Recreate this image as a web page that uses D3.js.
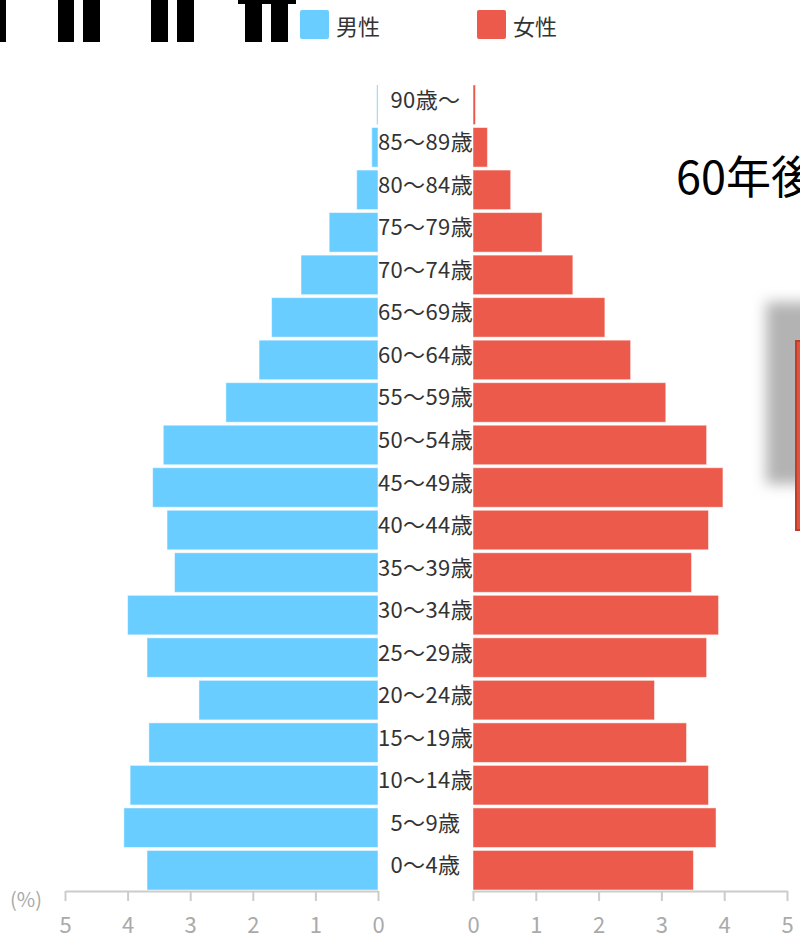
<!DOCTYPE html>
<html>
<head>
<meta charset="utf-8">
<script src="https://cdn.jsdelivr.net/npm/d3@7"></script>
<style>
  html, body { margin: 0; padding: 0; background: #fff; }
  svg { display: block; font-family: "Noto Sans CJK JP", "Noto Sans", sans-serif; }
</style>
</head>
<body>
<svg id="chart" width="800" height="940"></svg>
<script>
// ---- data ----
const ageGroups = ["90歳〜","85〜89歳","80〜84歳","75〜79歳","70〜74歳","65〜69歳","60〜64歳","55〜59歳","50〜54歳","45〜49歳","40〜44歳","35〜39歳","30〜34歳","25〜29歳","20〜24歳","15〜19歳","10〜14歳","5〜9歳","0〜4歳"];
const maleValues   = [0.02,0.10,0.34,0.78,1.23,1.70,1.90,2.43,3.43,3.60,3.37,3.25,4.00,3.69,2.86,3.66,3.96,4.06,3.69];
const femaleValues = [0.04,0.23,0.60,1.10,1.59,2.10,2.51,3.07,3.72,3.98,3.75,3.48,3.91,3.72,2.89,3.40,3.75,3.87,3.51];
const tickValues = [0,1,2,3,4,5];
const legendLabels = ["男性","女性"];
const unitLabel = "(%)";
const sideTitle = "60年後";

// ---- setup ----
const svg = d3.select("#chart");
const colors = { male: "#69cdff", female: "#ec5a4b" };

const xLeft = d3.scaleLinear().domain([0,5]).range([378,65]);
const xRight = d3.scaleLinear().domain([0,5]).range([473,787]);
const y = d3.scaleBand().domain(ageGroups).range([85,890]).paddingInner(0.07).paddingOuter(0);

// decorative clipped heading fragments (top-left)
const decor = svg.append("g").attr("fill","#000");
[[0,6],[58,16],[83,17],[151,17],[177,17],[245,17],[271,17]].forEach(([x,w]) => {
  decor.append("rect").attr("x",x).attr("y",0).attr("width",w).attr("height",42);
});
decor.append("rect").attr("x",238).attr("y",0).attr("width",58).attr("height",4);

// right side fragments
const defs = svg.append("defs");
defs.append("filter").attr("id","blur").attr("x","-50%").attr("y","-50%").attr("width","200%").attr("height","200%")
  .append("feGaussianBlur").attr("stdDeviation",7);
defs.append("clipPath").attr("id","labelClip")
  .append("rect").attr("x",378).attr("y",0).attr("width",95).attr("height",940);

svg.append("rect").attr("x",766).attr("y",302).attr("width",60).attr("height",182)
  .attr("fill","#b3b3b3").attr("filter","url(#blur)");
svg.append("rect").attr("x",796).attr("y",341).attr("width",20).attr("height",189)
  .attr("fill","#e0533f").attr("stroke","#c23c2a").attr("stroke-width",2);

svg.append("text").attr("x",676).attr("y",194)
  .attr("font-size",45).attr("fill","#000").text(sideTitle);

// legend
const legend = svg.append("g");
[[300, colors.male, legendLabels[0]], [477, colors.female, legendLabels[1]]].forEach(([x,c,t]) => {
  legend.append("rect").attr("x",x).attr("y",10).attr("width",29).attr("height",29).attr("rx",2).attr("fill",c);
  legend.append("text").attr("x",x+36).attr("y",25).attr("dominant-baseline","central")
    .attr("font-size",22).attr("fill","#333").text(t);
});

// bars
svg.append("g").selectAll("rect").data(ageGroups).join("rect")
  .attr("x",(d,i) => xLeft(maleValues[i]))
  .attr("y",d => y(d))
  .attr("width",(d,i) => xLeft(0) - xLeft(maleValues[i]))
  .attr("height",y.bandwidth())
  .attr("fill",colors.male)
  .attr("stroke","#ffffff").attr("stroke-opacity",0.5).attr("stroke-width",1);

svg.append("g").selectAll("rect").data(ageGroups).join("rect")
  .attr("x",xRight(0))
  .attr("y",d => y(d))
  .attr("width",(d,i) => xRight(femaleValues[i]) - xRight(0))
  .attr("height",y.bandwidth())
  .attr("fill",colors.female)
  .attr("stroke","#ffffff").attr("stroke-opacity",0.5).attr("stroke-width",1);

// category labels
svg.append("g").attr("clip-path","url(#labelClip)")
  .selectAll("text").data(ageGroups).join("text")
  .attr("x",(xLeft(0)+xRight(0))/2)
  .attr("y",d => y(d) + y.bandwidth()/2 - 7)
  .attr("text-anchor","middle").attr("dominant-baseline","central")
  .attr("font-size",22).attr("letter-spacing",0.4).attr("fill","#333")
  .text(d => d);

// axes
function styleAxis(g) {
  g.select(".domain").attr("stroke","#cccccc").attr("stroke-width",2);
  g.selectAll(".tick line").attr("stroke","#cccccc").attr("stroke-width",2);
  g.selectAll(".tick text").attr("fill","#aaaaaa").attr("font-size",22)
    .attr("font-family","'Noto Sans CJK JP', 'Noto Sans', sans-serif");
}
const axisY = 891;
svg.append("g").attr("transform",`translate(0,${axisY})`)
  .call(d3.axisBottom(xLeft).tickValues(tickValues).tickFormat(d3.format("d")).tickSize(10).tickSizeOuter(0).tickPadding(16))
  .call(styleAxis);
svg.append("g").attr("transform",`translate(0,${axisY})`)
  .call(d3.axisBottom(xRight).tickValues(tickValues).tickFormat(d3.format("d")).tickSize(10).tickSizeOuter(0).tickPadding(16))
  .call(styleAxis);

svg.append("text").attr("x",10).attr("y",898).attr("dominant-baseline","central")
  .attr("font-size",20).attr("fill","#aaaaaa").text(unitLabel);
</script>
</body>
</html>
